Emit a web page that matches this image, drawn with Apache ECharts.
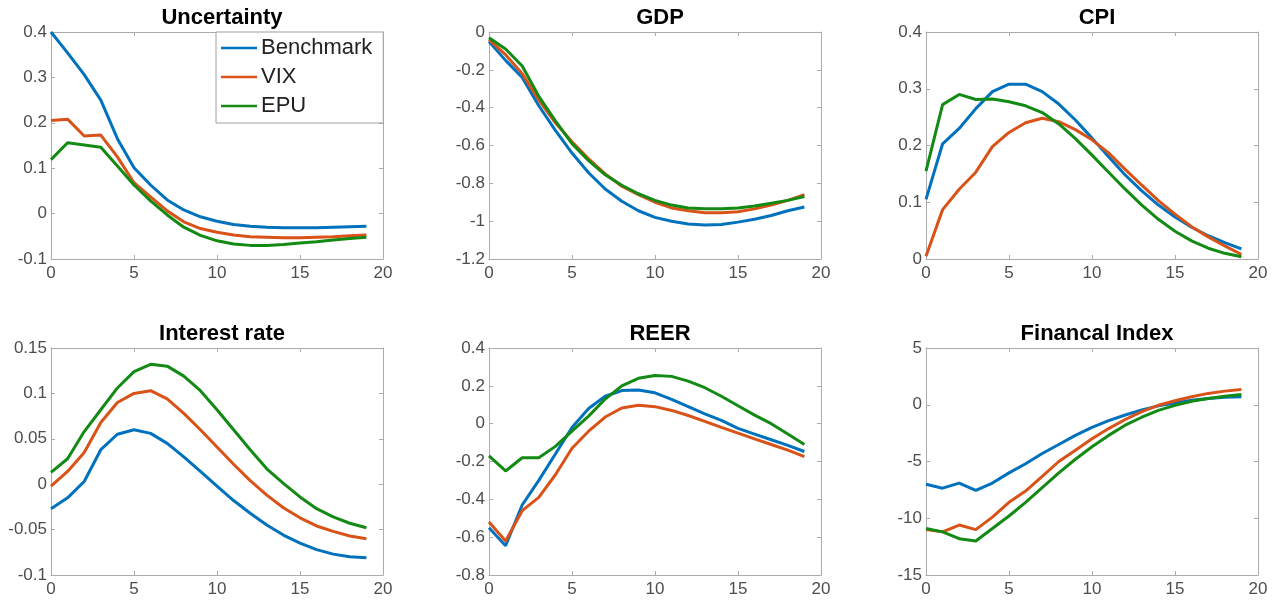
<!DOCTYPE html>
<html>
<head>
<meta charset="utf-8">
<script src="https://cdn.jsdelivr.net/npm/echarts@6/dist/echarts.min.js"></script>
<style>
html,body{margin:0;padding:0;background:#fff;}
#chart{width:1279px;height:606px;}
</style>
</head>
<body>
<div id="chart"></div>
<script>
// ---- data ----
const steps = [0,1,2,3,4,5,6,7,8,9,10,11,12,13,14,15,16,17,18,19];
const seriesNames = ['Benchmark','VIX','EPU'];
const panelTitles = ['Uncertainty','GDP','CPI','Interest rate','REER','Financal Index'];

const uncBenchmark = [0.400,0.354,0.306,0.250,0.165,0.101,0.063,0.030,0.008,-0.007,-0.017,-0.024,-0.028,-0.030,-0.031,-0.031,-0.031,-0.030,-0.029,-0.028];
const uncVIX       = [0.205,0.208,0.171,0.173,0.125,0.068,0.037,0.006,-0.018,-0.033,-0.041,-0.047,-0.051,-0.052,-0.053,-0.053,-0.052,-0.051,-0.049,-0.047];
const uncEPU       = [0.119,0.156,0.151,0.146,0.105,0.063,0.028,-0.003,-0.030,-0.048,-0.060,-0.067,-0.070,-0.070,-0.068,-0.065,-0.062,-0.058,-0.055,-0.052];

const gdpBenchmark = [-0.05,-0.15,-0.24,-0.39,-0.52,-0.64,-0.744,-0.83,-0.895,-0.945,-0.98,-1.0,-1.015,-1.02,-1.018,-1.005,-0.99,-0.97,-0.945,-0.925];
const gdpVIX       = [-0.04,-0.12,-0.22,-0.36,-0.48,-0.58,-0.67,-0.75,-0.815,-0.86,-0.90,-0.93,-0.945,-0.955,-0.955,-0.95,-0.935,-0.915,-0.89,-0.86];
const gdpEPU       = [-0.03,-0.09,-0.18,-0.34,-0.47,-0.59,-0.68,-0.755,-0.81,-0.855,-0.89,-0.915,-0.93,-0.935,-0.935,-0.93,-0.92,-0.905,-0.89,-0.87];

const cpiBenchmark = [0.105,0.203,0.230,0.265,0.295,0.308,0.308,0.295,0.273,0.245,0.213,0.180,0.148,0.120,0.095,0.074,0.056,0.041,0.029,0.018];
const cpiVIX       = [0.005,0.087,0.123,0.153,0.198,0.223,0.240,0.248,0.242,0.228,0.210,0.187,0.158,0.130,0.103,0.079,0.057,0.039,0.023,0.008];
const cpiEPU       = [0.155,0.272,0.290,0.281,0.282,0.277,0.270,0.258,0.238,0.212,0.183,0.153,0.123,0.095,0.070,0.049,0.032,0.019,0.010,0.004];

const irBenchmark  = [-0.027,-0.015,0.003,0.038,0.055,0.060,0.056,0.045,0.030,0.014,-0.002,-0.018,-0.032,-0.045,-0.056,-0.065,-0.072,-0.077,-0.080,-0.081];
const irVIX        = [-0.002,0.014,0.035,0.068,0.090,0.100,0.103,0.094,0.078,0.060,0.041,0.022,0.004,-0.012,-0.026,-0.037,-0.046,-0.052,-0.057,-0.060];
const irEPU        = [0.013,0.028,0.058,0.082,0.106,0.124,0.132,0.130,0.119,0.103,0.082,0.060,0.038,0.017,0.001,-0.014,-0.027,-0.036,-0.043,-0.048];

const reerBenchmark = [-0.55,-0.645,-0.43,-0.30,-0.16,-0.02,0.08,0.145,0.175,0.178,0.163,0.128,0.09,0.052,0.017,-0.025,-0.055,-0.085,-0.115,-0.147];
const reerVIX       = [-0.52,-0.62,-0.46,-0.39,-0.27,-0.13,-0.04,0.035,0.083,0.097,0.09,0.07,0.043,0.012,-0.02,-0.05,-0.08,-0.11,-0.14,-0.174];
const reerEPU       = [-0.17,-0.25,-0.18,-0.18,-0.12,-0.04,0.04,0.13,0.20,0.24,0.255,0.25,0.225,0.19,0.145,0.095,0.045,0.0,-0.055,-0.11];

const finBenchmark = [-7.0,-7.35,-6.9,-7.55,-6.9,-6.0,-5.2,-4.3,-3.5,-2.7,-2.0,-1.4,-0.9,-0.45,-0.1,0.15,0.4,0.55,0.65,0.7];
const finVIX       = [-11.0,-11.2,-10.6,-11.0,-9.9,-8.6,-7.6,-6.3,-5.0,-4.0,-3.0,-2.1,-1.3,-0.6,-0.05,0.35,0.7,1.0,1.2,1.35];
const finEPU       = [-10.9,-11.2,-11.8,-12.0,-10.9,-9.8,-8.6,-7.3,-6.0,-4.8,-3.7,-2.7,-1.8,-1.1,-0.5,-0.05,0.3,0.55,0.75,0.9];

const xTicks = [0,5,10,15,20];
const yMins  = [-0.1,-1.2,0,-0.1,-0.8,-15];
const yMaxs  = [0.4,0,0.4,0.15,0.4,5];
const ySteps = [0.1,0.2,0.1,0.05,0.2,5];

const panelData = [
  [uncBenchmark, uncVIX, uncEPU],
  [gdpBenchmark, gdpVIX, gdpEPU],
  [cpiBenchmark, cpiVIX, cpiEPU],
  [irBenchmark, irVIX, irEPU],
  [reerBenchmark, reerVIX, reerEPU],
  [finBenchmark, finVIX, finEPU]
];

// ---- layout / style ----
const colors = ['#0072BD','#D95319','#138A13'];
const lefts = [51, 489, 926];
const tops = [32, 348];
const gridW = 332, gridH = 227;
const axisColor = '#ababab';
const labelColor = '#4d4d4d';
const fontFam = '"Liberation Sans", Arial, Helvetica, sans-serif';

const grids = [], xAxes = [], yAxes = [], series = [], titles = [];
for (let p = 0; p < 6; p++) {
  const col = p % 3, row = Math.floor(p / 3);
  grids.push({left: lefts[col], top: tops[row], width: gridW, height: gridH, containLabel: false});
  titles.push({
    text: panelTitles[p], left: lefts[col] + gridW / 2, top: tops[row] - 30, textAlign: 'center',
    textStyle: {fontFamily: fontFam, fontWeight: 'bold', fontSize: 22, color: '#000'}
  });
  const xMain = {
    type: 'value', gridIndex: p, min: xTicks[0], max: xTicks[xTicks.length - 1], interval: 5, position: 'bottom',
    axisLine: {show: true, onZero: false, lineStyle: {color: axisColor, width: 1}},
    axisTick: {show: true, inside: true, length: 4, lineStyle: {color: axisColor}},
    axisLabel: {color: labelColor, fontFamily: fontFam, fontSize: 17, margin: 6},
    splitLine: {show: false}
  };
  const xTop = {
    type: 'value', gridIndex: p, min: xTicks[0], max: xTicks[xTicks.length - 1], interval: 5, position: 'top',
    axisLine: {show: true, onZero: false, lineStyle: {color: axisColor, width: 1}},
    axisTick: {show: true, inside: true, length: 4, lineStyle: {color: axisColor}},
    axisLabel: {show: false}, splitLine: {show: false}
  };
  const yMain = {
    type: 'value', gridIndex: p, min: yMins[p], max: yMaxs[p], interval: ySteps[p], position: 'left',
    axisLine: {show: true, onZero: false, lineStyle: {color: axisColor, width: 1}},
    axisTick: {show: true, inside: true, length: 4, lineStyle: {color: axisColor}},
    axisLabel: {color: labelColor, fontFamily: fontFam, fontSize: 17, margin: 4,
      formatter: v => String(parseFloat(v.toFixed(4)))},
    splitLine: {show: false}
  };
  const yRight = {
    type: 'value', gridIndex: p, min: yMins[p], max: yMaxs[p], interval: ySteps[p], position: 'right',
    axisLine: {show: true, onZero: false, lineStyle: {color: axisColor, width: 1}},
    axisTick: {show: true, inside: true, length: 4, lineStyle: {color: axisColor}},
    axisLabel: {show: false}, splitLine: {show: false}
  };
  const xi = xAxes.length; xAxes.push(xMain, xTop);
  const yi = yAxes.length; yAxes.push(yMain, yRight);
  for (let s = 0; s < 3; s++) {
    series.push({
      name: seriesNames[s], type: 'line', xAxisIndex: xi, yAxisIndex: yi,
      data: steps.map((x, i) => [x, panelData[p][s][i]]),
      showSymbol: false, symbol: 'none', smooth: false, animation: false,
      lineStyle: {color: colors[s], width: 3}, itemStyle: {color: colors[s]},
      z: 2 + s
    });
  }
}

const chart = echarts.init(document.getElementById('chart'), null, {renderer: 'canvas'});
chart.setOption({
  backgroundColor: '#fff',
  animation: false,
  title: titles,
  grid: grids,
  xAxis: xAxes,
  yAxis: yAxes,
  legend: {
    orient: 'vertical', left: 216, top: 32,
    data: seriesNames,
    icon: 'rect', itemWidth: 36, itemHeight: 2.5, itemGap: 7,
    padding: [5, 11, 6, 5],
    backgroundColor: '#fff', borderColor: '#a0a0a0', borderWidth: 1,
    textStyle: {fontFamily: fontFam, fontSize: 22, color: '#222', padding: [0, 0, 0, -1]}
  },
  series: series
});
</script>
</body>
</html>
